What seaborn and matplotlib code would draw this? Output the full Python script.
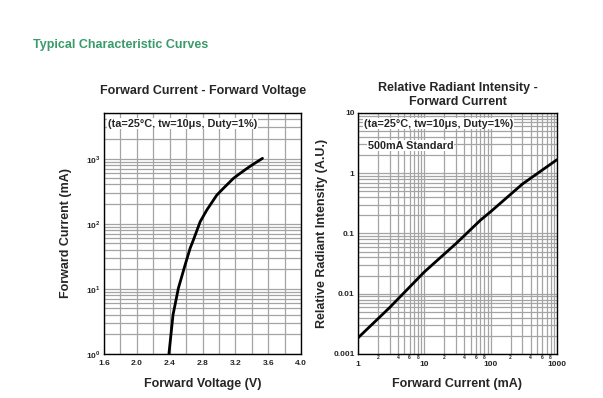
import numpy as np
import seaborn as sns
import matplotlib.pyplot as plt
from matplotlib.ticker import FixedLocator, FuncFormatter, NullFormatter

sns.set_style("white")
plt.rcParams['font.family'] = ['Liberation Sans', 'DejaVu Sans']
plt.rcParams['font.weight'] = 'bold'
plt.rcParams['mathtext.fontset'] = 'custom'
plt.rcParams['mathtext.rm'] = 'Liberation Sans:bold'
plt.rcParams['mathtext.bf'] = 'Liberation Sans:bold'

# Forward current vs forward voltage
vf = [2.39, 2.44, 2.505, 2.587, 2.648, 2.688, 2.77, 2.851, 2.973, 3.053, 3.175, 3.257, 3.339, 3.419, 3.529]
if_ma = [1.0, 4.0, 10.2, 23.3, 41.9, 56.3, 107, 162, 275, 349, 496, 593, 703, 822, 1006]

# Relative radiant intensity vs forward current
cur = [1, 3, 10, 30, 70, 100, 300, 1000]
rel = [0.00185, 0.0059, 0.023, 0.068, 0.166, 0.23, 0.66, 1.68]

vticks = [1.6, 2.0, 2.4, 2.8, 3.2, 3.6, 4.0]
vgrid = [1.6, 1.8, 2.0, 2.2, 2.4, 2.6, 2.8, 3.0, 3.2, 3.4, 3.6, 3.8, 4.0]
iticks = [1, 10, 100, 1000]
ilabels = [r'$10^{0}$', r'$10^{1}$', r'$10^{2}$', r'$10^{3}$']
rticks = [0.001, 0.01, 0.1, 1, 10]
rlabels = ['0.001', '0.01', '0.1', '1', '10']
cticks = [1, 10, 100, 1000]
clabels = ['1', '10', '100', '1000']

note = '(ta=25\u00b0C, tw=10\u03bcs, Duty=1%)'
gridc = '#a4a4a4'

def log_minors(lo, hi):
    out = []
    d = lo
    while d < hi:
        out += [d * k for k in range(2, 10)]
        d *= 10
    return out

fig = plt.figure(figsize=(6.03, 3.98), dpi=100)
fig.text(0.055, 0.888, 'Typical Characteristic Curves', color='#3a9a6a',
         fontsize=9, fontweight='bold', ha='left', va='center')

# ---- left chart
ax1 = fig.add_axes([0.1725, 0.1106, 0.327, 0.6055])
sns.lineplot(x=vf, y=if_ma, ax=ax1, color='black', lw=2)
ax1.set_yscale('log')
ax1.set_xlim(1.6, 4.0)
ax1.set_ylim(1, 5000)
ax1.xaxis.set_major_locator(FixedLocator(vticks))
ax1.xaxis.set_minor_locator(FixedLocator(vgrid))
ax1.yaxis.set_major_locator(FixedLocator(iticks))
ax1.yaxis.set_minor_locator(FixedLocator(log_minors(1, 5000)))
ax1.set_xticklabels([f'{v:.1f}' for v in vticks], fontsize=6, fontweight='bold')
ax1.set_yticklabels(ilabels, fontsize=6)
ax1.yaxis.set_minor_formatter(NullFormatter())
ax1.grid(which='both', axis='both', color=gridc, lw=0.9)
ax1.set_axisbelow(True)
ax1.tick_params(which='both', length=0, pad=2.5)
ax1.tick_params(axis='x', pad=4)
ax1.set_xlabel('Forward Voltage (V)', fontsize=9, fontweight='bold', labelpad=8)
ax1.set_ylabel('Forward Current (mA)', fontsize=9, fontweight='bold', labelpad=10)
ax1.set_title('Forward Current - Forward Voltage', fontsize=9, fontweight='bold', pad=14)
ax1.text(0.02, 0.955, note, transform=ax1.transAxes, fontsize=7.8, fontweight='bold',
         ha='left', va='center', bbox=dict(facecolor='white', edgecolor='none', pad=0.5))

# ---- right chart
ax2 = fig.add_axes([0.5937, 0.1106, 0.330, 0.6055])
sns.lineplot(x=cur, y=rel, ax=ax2, color='black', lw=2)
ax2.set_xscale('log')
ax2.set_yscale('log')
ax2.set_xlim(1, 1000)
ax2.set_ylim(0.001, 10)
ax2.xaxis.set_major_locator(FixedLocator(cticks))
ax2.xaxis.set_minor_locator(FixedLocator(log_minors(1, 1000)))
ax2.yaxis.set_major_locator(FixedLocator(rticks))
ax2.yaxis.set_minor_locator(FixedLocator(log_minors(0.001, 10)))
ax2.set_xticklabels(clabels, fontsize=6, fontweight='bold')
ax2.set_yticklabels(rlabels, fontsize=6, fontweight='bold')


def minor_lab(x, pos):
    m = int(round(x / 10 ** np.floor(np.log10(x) + 1e-9)))
    return str(m) if m in (2, 4, 6, 8) else ''


ax2.xaxis.set_minor_formatter(FuncFormatter(minor_lab))
ax2.yaxis.set_minor_formatter(NullFormatter())
ax2.grid(which='both', axis='both', color=gridc, lw=0.9)
ax2.set_axisbelow(True)
ax2.tick_params(which='both', length=0, pad=2.5)
ax2.tick_params(axis='x', which='major', pad=5)
ax2.tick_params(axis='x', which='minor', labelsize=3.5, pad=1)
ax2.set_xlabel('Forward Current (mA)', fontsize=9, fontweight='bold', labelpad=7)
ax2.set_ylabel('Relative Radiant Intensity (A.U.)', fontsize=9, fontweight='bold', labelpad=4)
ax2.set_title('Relative Radiant Intensity -\nForward Current', fontsize=9,
              fontweight='bold', pad=6, linespacing=1.15)
ax2.text(0.03, 0.955, note, transform=ax2.transAxes, fontsize=7.8, fontweight='bold',
         ha='left', va='center', bbox=dict(facecolor='white', edgecolor='none', pad=0.5))
ax2.text(0.05, 0.865, '500mA Standard', transform=ax2.transAxes, fontsize=7.8,
         fontweight='bold', ha='left', va='center',
         bbox=dict(facecolor='white', edgecolor='none', pad=0.5))

for ax in (ax1, ax2):
    for s in ax.spines.values():
        s.set_visible(True)
        s.set_color('black')
        s.set_linewidth(1)

fig.savefig('out.png', dpi=100)
